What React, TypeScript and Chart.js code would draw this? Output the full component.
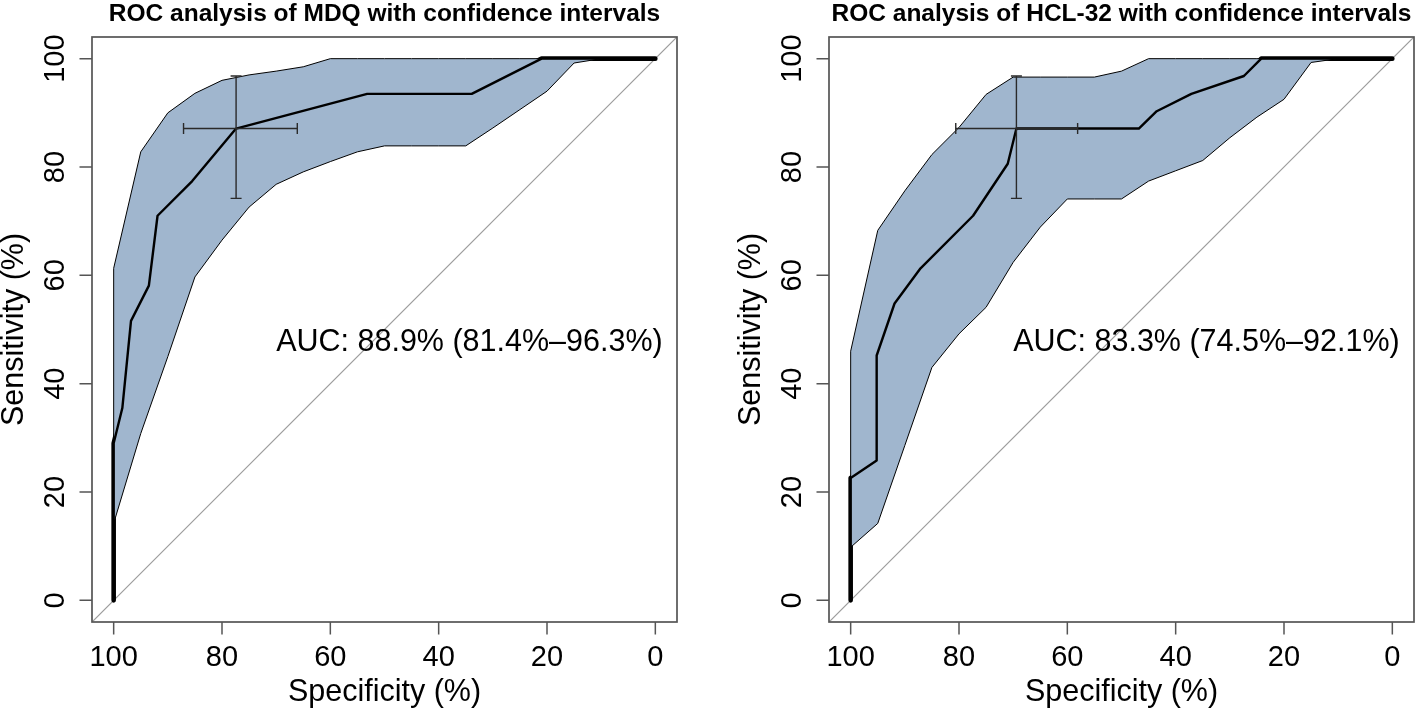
import React, { useEffect, useRef } from "react";
import { Chart, registerables } from "chart.js";

Chart.register(...registerables);

// ---------- axis set-up ----------
const AXIS_MIN = -4;
const AXIS_MAX = 104;
const TICK_VALUES = [0, 20, 40, 60, 80, 100];
const X_TITLE = "Specificity (%)";
const Y_TITLE = "Sensitivity (%)";

// specificity grid at which the sensitivity confidence band is given
const bandSpec = [100, 95, 90, 85, 80, 75, 70, 65, 60, 55, 50, 45, 40, 35, 30, 25, 20, 15, 10, 5, 0];

// ---------- MDQ ----------
const mdqTitle = "ROC analysis of MDQ with confidence intervals";
const mdqAucText = "AUC: 88.9% (81.4%\u201396.3%)";
const mdqRocSpec = [100, 100, 98.4, 96.8, 93.5, 91.9, 85.5, 77.4, 53.2, 33.9, 21.0, 0];
const mdqRocSens = [0, 29.0, 35.5, 51.6, 58.1, 71.0, 77.4, 87.1, 93.5, 93.5, 100, 100];
const mdqBandLower = [14.2, 30.8, 45.0, 59.7, 66.5, 72.6, 76.8, 79.1, 81.0, 82.8, 83.9, 83.9, 83.9, 83.9, 87.2, 90.6, 94.0, 99.2, 100, 100, 100];
const mdqBandUpper = [61.3, 82.8, 90.0, 93.6, 96.0, 97.0, 97.7, 98.5, 100, 100, 100, 100, 100, 100, 100, 100, 100, 100, 100, 100, 100];
const mdqThreshold = [77.4, 87.1];
const mdqSpecCI = [87.1, 66.1];
const mdqSensCI = [74.2, 96.8];

// ---------- HCL-32 ----------
const hclTitle = "ROC analysis of HCL-32 with confidence intervals";
const hclAucText = "AUC: 83.3% (74.5%\u201392.1%)";
const hclRocSpec = [100, 100, 95.2, 95.2, 91.9, 87.1, 77.4, 71.0, 69.4, 46.8, 43.5, 37.1, 27.4, 24.2, 0];
const hclRocSens = [0, 22.6, 25.8, 45.2, 54.8, 61.3, 71.0, 80.6, 87.1, 87.1, 90.3, 93.5, 96.8, 100, 100];
const hclBandLower = [9.8, 14.2, 28.6, 43.0, 49.2, 54.1, 62.4, 68.9, 74.1, 74.1, 74.1, 77.4, 79.3, 81.2, 85.4, 89.2, 92.5, 99.3, 100, 100, 100];
const hclBandUpper = [46.0, 68.3, 75.6, 82.3, 87.3, 93.4, 96.6, 96.6, 96.6, 96.6, 97.7, 100, 100, 100, 100, 100, 100, 100, 100, 100, 100];
const hclThreshold = [69.4, 87.1];
const hclSpecCI = [80.6, 58.1];
const hclSensCI = [74.2, 96.8];

// AUC label anchor (specificity, sensitivity) – left/top aligned
const aucAnchor = [70, 50];

const FONT = '"Liberation Sans", Arial, Helvetica, sans-serif';
const BAND_FILL = "rgb(160,182,206)";
const FRAME = "#555555";

type PanelData = {
  title: string;
  auc: string;
  rocSpec: number[];
  rocSens: number[];
  lower: number[];
  upper: number[];
  threshold: number[];
  specCI: number[];
  sensCI: number[];
};

const panels: PanelData[] = [
  {
    title: mdqTitle,
    auc: mdqAucText,
    rocSpec: mdqRocSpec,
    rocSens: mdqRocSens,
    lower: mdqBandLower,
    upper: mdqBandUpper,
    threshold: mdqThreshold,
    specCI: mdqSpecCI,
    sensCI: mdqSensCI,
  },
  {
    title: hclTitle,
    auc: hclAucText,
    rocSpec: hclRocSpec,
    rocSens: hclRocSens,
    lower: hclBandLower,
    upper: hclBandUpper,
    threshold: hclThreshold,
    specCI: hclSpecCI,
    sensCI: hclSensCI,
  },
];

function RocPanel(props: { data: PanelData; left: number; padLeft: number; padRight: number }) {
  const ref = useRef<HTMLCanvasElement | null>(null);
  const { data, left, padLeft, padRight } = props;

  useEffect(() => {
    const canvas = ref.current;
    if (!canvas) return;

    const roc = data.rocSpec.map((s, i) => ({ x: s, y: data.rocSens[i] }));
    const upperPts = [{ x: bandSpec[0], y: data.lower[0] }].concat(
      bandSpec.map((s, i) => ({ x: s, y: data.upper[i] }))
    );
    const lowerPts = bandSpec.map((s, i) => ({ x: s, y: data.lower[i] }));
    const diag = [
      { x: AXIS_MAX, y: 100 - AXIS_MAX },
      { x: AXIS_MIN, y: 100 - AXIS_MIN },
    ];

    const decor = {
      id: "rocDecor",
      afterDatasetsDraw(chart: any) {
        const ctx = chart.ctx as CanvasRenderingContext2D;
        const xs = chart.scales.x;
        const ys = chart.scales.y;
        const cx = xs.getPixelForValue(data.threshold[0]);
        const cy = ys.getPixelForValue(data.threshold[1]);
        const x1 = xs.getPixelForValue(data.specCI[0]);
        const x2 = xs.getPixelForValue(data.specCI[1]);
        const y1 = ys.getPixelForValue(data.sensCI[0]);
        const y2 = ys.getPixelForValue(data.sensCI[1]);
        const cap = 5.5;
        ctx.save();
        ctx.strokeStyle = "#2a2a2a";
        ctx.lineWidth = 1.4;
        ctx.beginPath();
        ctx.moveTo(x1, cy);
        ctx.lineTo(x2, cy);
        ctx.moveTo(x1, cy - cap);
        ctx.lineTo(x1, cy + cap);
        ctx.moveTo(x2, cy - cap);
        ctx.lineTo(x2, cy + cap);
        ctx.moveTo(cx, y1);
        ctx.lineTo(cx, y2);
        ctx.moveTo(cx - cap, y1);
        ctx.lineTo(cx + cap, y1);
        ctx.moveTo(cx - cap, y2);
        ctx.lineTo(cx + cap, y2);
        ctx.stroke();
        ctx.restore();
      },
      afterDraw(chart: any) {
        const ctx = chart.ctx as CanvasRenderingContext2D;
        const ca = chart.chartArea;
        const xs = chart.scales.x;
        const ys = chart.scales.y;
        ctx.save();
        // frame
        ctx.strokeStyle = FRAME;
        ctx.lineWidth = 1.7;
        ctx.strokeRect(ca.left, ca.top, ca.right - ca.left, ca.bottom - ca.top);
        // ticks
        ctx.lineWidth = 1.5;
        ctx.beginPath();
        TICK_VALUES.forEach((v) => {
          const px = xs.getPixelForValue(v);
          ctx.moveTo(px, ca.bottom);
          ctx.lineTo(px, ca.bottom + 12.5);
          const py = ys.getPixelForValue(v);
          ctx.moveTo(ca.left, py);
          ctx.lineTo(ca.left - 12.5, py);
        });
        ctx.stroke();

        ctx.fillStyle = "#000";
        // x tick labels
        ctx.font = `29px ${FONT}`;
        ctx.textAlign = "center";
        ctx.textBaseline = "alphabetic";
        TICK_VALUES.forEach((v) => {
          ctx.fillText(String(v), xs.getPixelForValue(v), ca.bottom + 44);
        });
        // y tick labels (rotated)
        TICK_VALUES.forEach((v) => {
          ctx.save();
          ctx.translate(ca.left - 28.5, ys.getPixelForValue(v));
          ctx.rotate(-Math.PI / 2);
          ctx.fillText(String(v), 0, 0);
          ctx.restore();
        });
        // axis titles
        ctx.font = `30.5px ${FONT}`;
        ctx.fillText(X_TITLE, (ca.left + ca.right) / 2, ca.bottom + 79);
        ctx.save();
        ctx.translate(ca.left - 69, (ca.top + ca.bottom) / 2);
        ctx.rotate(-Math.PI / 2);
        ctx.fillText(Y_TITLE, 0, 0);
        ctx.restore();
        // main title
        ctx.font = `bold 24.5px ${FONT}`;
        ctx.fillText(data.title, (ca.left + ca.right) / 2, 21);
        // AUC text
        const aucSize = 30.5;
        ctx.font = `${aucSize}px ${FONT}`;
        ctx.textAlign = "left";
        ctx.fillText(
          data.auc,
          xs.getPixelForValue(aucAnchor[0]),
          ys.getPixelForValue(aucAnchor[1]) + aucSize * 0.716
        );
        ctx.restore();
      },
    };

    const chart = new Chart(canvas, {
      type: "line",
      data: {
        datasets: [
          {
            label: "ROC",
            data: roc,
            borderColor: "#000",
            borderWidth: 2.4,
            borderCapStyle: "round",
            borderJoinStyle: "round",
            pointRadius: 0,
            fill: false,
            tension: 0,
            order: 0,
          },
          {
            label: "CI upper",
            data: upperPts,
            borderColor: "#000",
            borderWidth: 1,
            backgroundColor: BAND_FILL,
            pointRadius: 0,
            fill: "+1",
            tension: 0,
            order: 3,
          },
          {
            label: "CI lower",
            data: lowerPts,
            borderColor: "#000",
            borderWidth: 1,
            pointRadius: 0,
            fill: false,
            tension: 0,
            order: 2,
          },
          {
            label: "ROC (under)",
            data: roc,
            borderColor: "#000",
            borderWidth: 4.6,
            borderCapStyle: "round",
            borderJoinStyle: "round",
            pointRadius: 0,
            fill: false,
            tension: 0,
            order: 4,
          },
          {
            label: "chance",
            data: diag,
            borderColor: "#9c9c9c",
            borderWidth: 1.2,
            pointRadius: 0,
            fill: false,
            tension: 0,
            order: 5,
          },
        ],
      },
      options: {
        responsive: false,
        animation: false,
        events: [],
        devicePixelRatio: 1,
        layout: { padding: { left: padLeft, right: padRight, top: 37, bottom: 91 } },
        plugins: {
          legend: { display: false },
          tooltip: { enabled: false },
          title: { display: false },
        },
        scales: {
          x: { type: "linear", min: AXIS_MIN, max: AXIS_MAX, reverse: true, display: false },
          y: { type: "linear", min: AXIS_MIN, max: AXIS_MAX, display: false },
        },
      },
      plugins: [decor],
    } as any);

    return () => chart.destroy();
  }, [data, padLeft, padRight]);

  return (
    <canvas
      ref={ref}
      width={708}
      height={713}
      style={{ position: "absolute", left, top: 0, width: 708, height: 713 }}
    />
  );
}

export default function App() {
  return (
    <div
      style={{
        position: "fixed",
        left: 0,
        top: 0,
        width: 1416,
        height: 713,
        background: "#ffffff",
        overflow: "hidden",
      }}
    >
      <RocPanel data={panels[0]} left={0} padLeft={92} padRight={31} />
      <RocPanel data={panels[1]} left={708} padLeft={121} padRight={2} />
    </div>
  );
}
